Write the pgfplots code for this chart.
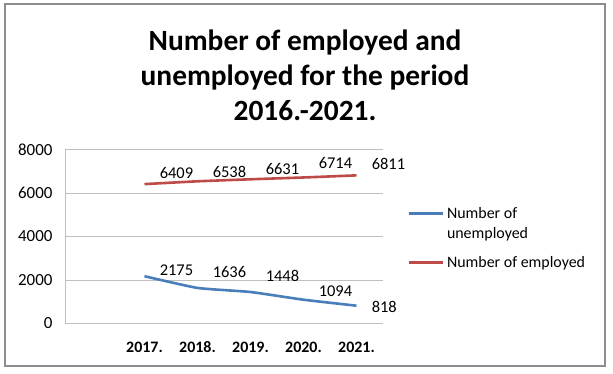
\documentclass[border=0pt]{standalone}
\usepackage{pgfplots}
\pgfplotsset{compat=1.18}
\usepackage{pgfplotstable}
\usepackage{fontspec}
\setmainfont{Carlito}
\definecolor{ublue}{HTML}{4A7EBB}
\definecolor{ered}{HTML}{BE4B48}
\definecolor{gridg}{HTML}{BFBFBF}
\definecolor{frameg}{HTML}{8C8C8C}
\pgfplotsset{upleg/.style={legend image code/.code={\draw[##1, line width=2.6bp] (0bp,10bp) -- (34bp,10bp);}},
  dnleg/.style={legend image code/.code={\draw[##1, line width=2.8bp] (0bp,0.6bp) -- (34bp,0.6bp);}}}
\pgfplotstableread{
x unemp dyU emp dyE
1 2175 6 6409 11
2 1636 16 6538 9
3 1448 16 6631 10
4 1094 8 6714 14
5 818 -1 6811 11
}\datatab
\begin{document}
\begin{tikzpicture}[x=1bp,y=1bp]
\path[fill=white] (0,0) rectangle (613,373);
\draw[frameg, line width=1.5bp] (5,7) rectangle (605,369);
\node[align=center, font=\fontsize{29.5}{35}\selectfont\bfseries] at (305,298) {Number of employed and\\unemployed for the period\\2016.-2021.};
\begin{axis}[
  at={(65bp,49.5bp)}, anchor=south west,
  scale only axis, width=318bp, height=174bp,
  xmin=-0.5, xmax=5.5, ymin=0, ymax=8000,
  xtick={1,2,3,4,5},
  xticklabels={2017.,2018.,2019.,2020.,2021.},
  x tick label style={font=\fontsize{16}{18}\selectfont\bfseries, yshift=-14bp, text height=11bp, text depth=0bp},
  ytick={0,2000,4000,6000,8000},
  y tick label style={font=\fontsize{17}{19}\selectfont, xshift=-9bp},
  /pgf/number format/assume math mode=true,
  /pgf/number format/1000 sep={},
  ymajorgrids, grid style={gridg, line width=0.9bp},
  major tick length=0pt,
  axis line style={gridg, line width=0.9bp},
  axis x line*=bottom, axis y line*=left,
  clip=false,
  legend style={at={(1.0755,0.68)}, anchor=north west, draw=none, fill=none,
     font=\fontsize{16}{20}\selectfont, cells={anchor=west, align=left},
     row sep=13bp, inner sep=0pt, column sep=1bp},
  legend cell align=left,
  nodes near coords,
  point meta=explicit symbolic,
  visualization depends on={\thisrow{dy} \as \dy},
]
\addplot[ublue, line width=2.6bp, smooth, tension=0.3, upleg,
  nodes near coords style={anchor=west, inner sep=0pt, xshift=14bp, yshift=\dy bp, font=\fontsize{16.5}{18}\selectfont, text=black}]
  table[x=x, y=unemp, meta=unemp, visualization depends on={\thisrow{dyU} \as \dy}] {\datatab};
\addlegendentry{Number of\\unemployed}
\addplot[ered, line width=2.6bp, smooth, tension=0.3, dnleg,
  nodes near coords style={anchor=west, inner sep=0pt, xshift=14bp, yshift=\dy bp, font=\fontsize{16.5}{18}\selectfont, text=black}]
  table[x=x, y=emp, meta=emp, visualization depends on={\thisrow{dyE} \as \dy}] {\datatab};
\addlegendentry{Number of employed}
\end{axis}
\end{tikzpicture}
\end{document}
